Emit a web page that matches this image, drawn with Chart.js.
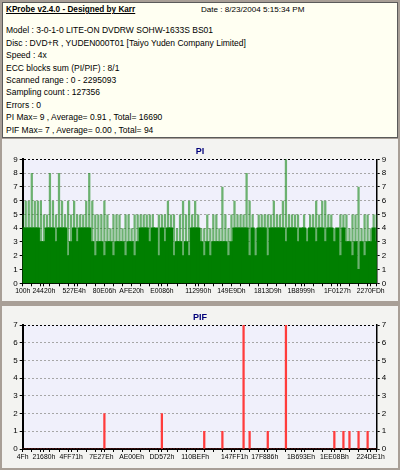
<!DOCTYPE html>
<html>
<head>
<meta charset="utf-8">
<script src="https://cdn.jsdelivr.net/npm/chart.js@4.4.1/dist/chart.umd.min.js"></script>
<style>
  html, body { margin: 0; padding: 0; }
  body { width: 400px; height: 470px; background: #a89f97; position: relative; overflow: hidden;
         font-family: 'Liberation Sans', Arial, sans-serif; }
  #info { position: absolute; left: 2px; top: 2px; width: 394px; height: 134px;
          background: #fffff2; border: 1px solid #5a5a5a; font-size: 8.5px; color: #000; }
  #info div { position: absolute; left: 3px; white-space: nowrap; }
  #info .head { font-weight: bold; text-decoration: underline; font-size: 8.2px; }
  #info .date { left: 198px; font-size: 8.1px; }
  .panel { position: absolute; left: 2px; width: 396px; height: 162px; background: #f3f3f1; }
</style>
</head>
<body>
<div id="info">
  <div class="head" style="top:2px">KProbe v2.4.0 - Designed by Karr</div>
  <div class="date" style="top:2px">Date : 8/23/2004 5:15:34 PM</div>
  <div style="top:22px">Model : 3-0-1-0 LITE-ON DVDRW SOHW-1633S BS01</div>
  <div style="top:34.5px">Disc : DVD+R , YUDEN000T01 [Taiyo Yuden Company Limited]</div>
  <div style="top:47px">Speed : 4x</div>
  <div style="top:59.5px">ECC blocks sum (PI/PIF) : 8/1</div>
  <div style="top:72px">Scanned range : 0 - 2295093</div>
  <div style="top:84px">Sampling count : 127356</div>
  <div style="top:96.5px">Errors : 0</div>
  <div style="top:109px">PI Max= 9 , Average= 0.91 , Total= 16690</div>
  <div style="top:121.5px">PIF Max= 7 , Average= 0.00 , Total= 94</div>
</div>
<div class="panel" style="top:139px"><canvas id="pi-chart" width="396" height="162"></canvas></div>
<div class="panel" style="top:306px"><canvas id="pif-chart" width="396" height="162"></canvas></div>
<script>
// PI: dark base level and lighter spike level per sample column
const piBase = [
    4,4,4,4,4,4,3, 3,4,4,4,3,4,4, 4,2,3,4,3, 4,4,4,4,3, 2,3,3,2,3,3,
    2,3,3,3,2,3,3,2,3,4,
    4,4,3,4,4,2,4,3,4,4,
    2,3,3,2,3,2,4,4,4,3,
    2,3,2,3,3,3,3,3,2,3,
    4,4,4,4,4,2,4,2,4,4,
    4,2,4,4,4,4,4,3,4,4,
    4,3,4,4,3,4,4,3,4,4,
    3,4,4,3,4,2,4,3,3,2,
    3,1,3,2,3,3,4,3
];
const piPeak = [
    5,6,6,8,6,6,6,5,5,8,
    6,5,8,6,5,6,5,6,5,5,
    5,6,8,6,5,5,5,6,5,4,
    5,5,5,4,5,5,4,5,5,5,
    5,5,5,5,4,5,5,5,6,5,
    5,4,5,6,5,6,5,6,5,4,
    4,5,4,5,5,4,7,5,4,5,
    6,5,5,5,8,6,5,4,5,5,
    5,5,5,6,5,5,6,9,5,5,
    5,5,4,5,4,5,5,6,5,6,
    6,5,5,4,4,5,5,5,4,5,
    5,7,4,5,5,4,5,5
];
const piTickCols = [0, 7, 17, 27, 36, 46, 58, 69, 81, 92, 104, 115];
const piTickText = ['100h', '24420h', '527E4h', '80E06h', 'AFE20h', 'E0086h',
                    '112990h', '149E9Dh', '1813D9h', '1B8999h', '1F0127h', '2270FDh'];

// PIF: only a few non-zero columns
const pifCols = [27, 46, 60, 66, 73, 75, 81, 87, 103, 106, 108, 111, 114];
const pifVals = [2, 2, 1, 1, 7, 1, 1, 7, 1, 1, 1, 1, 1];
const pifTickCols = [0, 7, 16, 26, 36, 46, 57, 70, 80, 92, 103, 115];
const pifTickText = ['4Fh', '21680h', '4FF71h', '7E27Eh', 'AE00Eh', 'DD572h',
                     '110BEFh', '147FF1h', '17F886h', '1B693Eh', '1EE08Bh', '224DE1h'];

const COLS = piBase.length;

Chart.defaults.font.family = "'Liberation Sans', Arial, sans-serif";
Chart.defaults.animation = false;

// ─── helpers ───────────────────────────────────────────────────────────────

function tickLabels(cols, text) {
    const labels = new Array(COLS).fill('');
    cols.forEach((c, i) => { labels[c] = text[i]; });
    return labels;
}

const plotBg = {
    id: 'plotBg',
    beforeDraw(chart) {
        const a = chart.chartArea, ctx = chart.ctx;
        ctx.save();
        ctx.fillStyle = '#f0f0fb';
        ctx.fillRect(a.left, a.top, a.right - a.left, a.bottom - a.top);
        ctx.restore();
    }
};

function buildOptions(title, yMax, titleTop, titleBottom, xHeight, labels) {
    return {
        responsive: false,
        layout: { padding: 0 },
        plugins: {
            legend: { display: false },
            tooltip: { enabled: false },
            title: {
                display: true, text: title, color: '#00007a',
                font: { size: 9, weight: 'bold' },
                padding: { top: titleTop, bottom: titleBottom }
            }
        },
        scales: {
            x: {
                offset: false,
                grid: {
                    drawOnChartArea: false, offset: false, tickLength: 3,
                    tickColor: c => (labels[c.index] || c.index % 3 === 0) ? '#000' : 'rgba(0,0,0,0)'
                },
                border: { color: '#000', width: 2 },
                ticks: {
                    autoSkip: false, maxRotation: 0, minRotation: 0, padding: 1,
                    color: '#000', font: { size: 6.8 },
                    callback: (v, i) => labels[i]
                },
                afterFit: s => { s.height = xHeight; }
            },
            y: {
                position: 'left', min: 0, max: yMax,
                ticks: { stepSize: 1, color: '#000', font: { size: 8 }, padding: 2 },
                grid: {
                    color: c => c.tick.value === yMax ? '#000' : '#a6a6a6',
                    tickColor: '#000', tickLength: 3, tickBorderDash: []
                },
                border: { color: '#000', width: 2, dash: [2, 2] },
                afterFit: s => { s.width = 20.7; }
            },
            y1: {
                position: 'right', min: 0, max: yMax,
                ticks: { stepSize: 1, color: '#000', font: { size: 8 }, padding: 2 },
                grid: { drawOnChartArea: false, tickColor: '#000', tickLength: 3 },
                border: { color: '#000', width: 1.5 },
                afterFit: s => { s.width = 21.3; }
            }
        }
    };
}

// ─── PI chart ──────────────────────────────────────────────────────────────

const piLabels = tickLabels(piTickCols, piTickText);
new Chart(document.getElementById('pi-chart'), {
    type: 'bar',
    data: {
        labels: piLabels,
        datasets: [
            {   // first dataset is drawn on top
                data: piBase, backgroundColor: '#007f00',
                barPercentage: 1, categoryPercentage: 1, grouped: false,
                borderWidth: 0, inflateAmount: 0.6
            },
            {
                data: piPeak, backgroundColor: 'rgba(20,135,20,0.6)',
                barPercentage: 0.75, categoryPercentage: 1, grouped: false
            }
        ]
    },
    options: buildOptions('PI', 9, 7.6, 1.9, 17.7, piLabels),
    plugins: [plotBg]
});

// ─── PIF chart ─────────────────────────────────────────────────────────────

const pifLabels = tickLabels(pifTickCols, pifTickText);
const pifData = new Array(COLS).fill(0);
pifCols.forEach((c, i) => { pifData[c] = pifVals[i]; });

new Chart(document.getElementById('pif-chart'), {
    type: 'bar',
    data: {
        labels: pifLabels,
        datasets: [{
            data: pifData, backgroundColor: '#ff3c3c',
            barThickness: 1.6, grouped: false
        }]
    },
    options: buildOptions('PIF', 7, 6, 2.2, 19, pifLabels),
    plugins: [plotBg]
});
</script>
</body>
</html>
